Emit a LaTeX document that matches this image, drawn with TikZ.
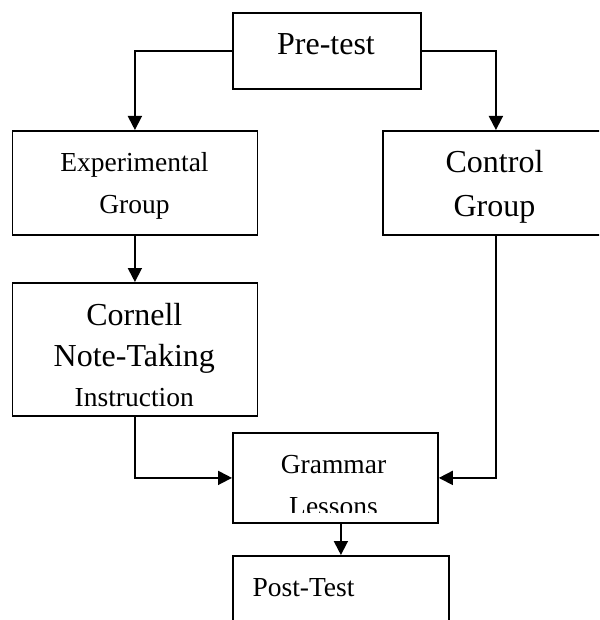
\documentclass[tikz,border=0pt]{standalone}
\usepackage{fontspec}
\setmainfont{Liberation Serif}
\usetikzlibrary{arrows.meta}
\begin{document}
\begin{tikzpicture}[x=1pt,y=-1pt,
  box/.style={draw,line width=1.8pt,rectangle,inner sep=0pt,anchor=north west},
  big/.style={font=\fontsize{32}{38}\selectfont,inner sep=0pt,anchor=base},
  small/.style={font=\fontsize{27.5}{33}\selectfont,inner sep=0pt,anchor=base},
  conn/.style={line width=1.8pt},
  arr/.style={conn,-{Triangle[length=14pt,width=14pt]}}]
\useasboundingbox (0,0) rectangle (599,620);
\clip (0,0) rectangle (599,620);
% boxes
\node[box,minimum width=188pt,minimum height=76pt] (pre) at (232,12) {};
\node[box,minimum width=245pt,minimum height=104pt] (exp) at (11.5,130) {};
\node[box,minimum width=226pt,minimum height=104pt] (ctl) at (382,130) {};
\node[box,minimum width=245pt,minimum height=133pt] (corn) at (11.5,282) {};
\node[box,minimum width=205pt,minimum height=90pt] (gram) at (232,432) {};
\node[box,minimum width=216pt,minimum height=100pt] (post) at (232,555) {};
% texts
\node[big] (tpre) at (326,54.3) {Pre-test};
\node[small] (texp1) at (134.5,171.7) {Experimental};
\node[small] (texp2) at (134.5,213.3) {Group};
\node[big] (tctl1) at (494.5,172.7) {Control};
\node[big] (tctl2) at (494.5,216.5) {Group};
\node[big] (tcorn1) at (134.3,325) {Cornell};
\node[big] (tcorn2) at (134.3,366.7) {Note-Taking};
\begin{scope}
\clip (20,380) rectangle (250,406.5);
\node[small] (tcorn3) at (134.3,406.2) {Instruction};
\end{scope}
\node[small] (tgram1) at (333.5,473) {Grammar};
\begin{scope}
\clip (240,485) rectangle (430,512);
\node[small] (tgram2) at (333.5,515.2) {Lessons};
\end{scope}
\node[small] (tpost) at (303.5,596) {Post-Test};
% connectors
\draw[arr] (pre.west) -| (exp.north);
\draw[arr] (pre.east) -| (ctl.north);
\draw[arr] (exp.south) -- (corn.north);
\draw[arr] (corn.south) |- (gram.west);
\draw[arr] (ctl.south) |- (gram.east);
\draw[arr] (post.north |- gram.south) -- (post.north);
\end{tikzpicture}
\end{document}
